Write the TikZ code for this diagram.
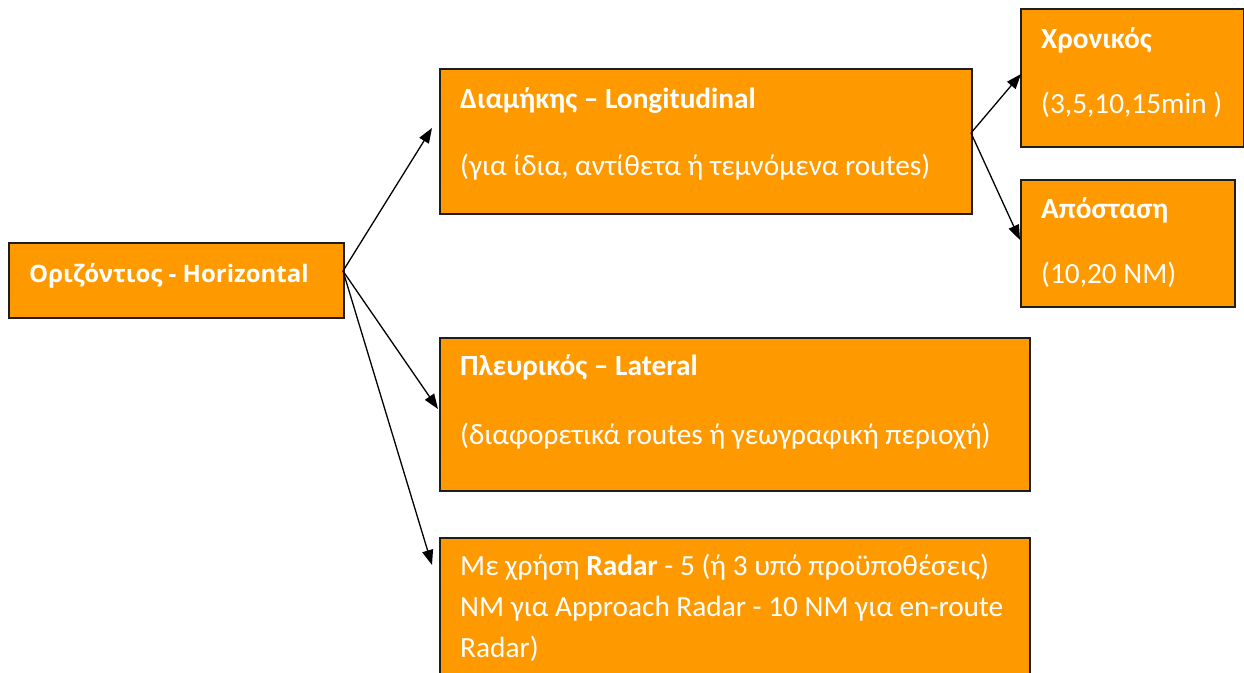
\documentclass[tikz,border=0pt]{standalone}
\usepackage{fontspec}
\setmainfont{Carlito}
\newfontfamily\hfont{Open Sans}
\usetikzlibrary{arrows.meta}
\definecolor{boxorange}{RGB}{255,153,0}
\definecolor{boxline}{RGB}{30,30,30}
\tikzset{
  box/.style={draw=boxline, line width=1.6pt, fill=boxorange, anchor=north west, inner sep=0pt},
  txt/.style={anchor=base west, inner sep=0pt, text=white, font=\fontsize{29.3}{34}\selectfont},
  btxt/.style={txt, font=\fontsize{29.3}{34}\selectfont\bfseries},
  conn/.style={line width=1.3pt, -{Triangle[length=15pt,width=11pt]}}
}
\begin{document}
\begin{tikzpicture}[x=1pt,y=-1pt]
\useasboundingbox (0,0) rectangle (1244,672);
% boxes
\node[box, minimum width=335pt, minimum height=75pt] (h) at (8,242) {};
\node[box, minimum width=532pt, minimum height=145pt] (d) at (439,68) {};
\node[box, minimum width=223pt, minimum height=138pt] (x) at (1020,8) {};
\node[box, minimum width=214pt, minimum height=127pt] (a) at (1020,179) {};
\node[box, minimum width=590pt, minimum height=153pt] (p) at (439,337) {};
\node[box, minimum width=590pt, minimum height=140pt] (r) at (439,537) {};
% texts
\node[btxt, font=\hfont\fontsize{24}{28}\selectfont\bfseries] (ht) at (29,282) {Οριζόντιος - Horizontal};
\node[btxt] (dt1) at (460,108) {Διαμήκης – Longitudinal};
\node[txt] (dt2) at (460,175) {(για ίδια, αντίθετα ή τεμνόμενα routes)};
\node[btxt] (xt1) at (1041,48) {Χρονικός};
\node[txt] (xt2) at (1041,113) {(3,5,10,15min )};
\node[btxt] (at1) at (1041,218) {Απόσταση};
\node[txt] (at2) at (1041,283) {(10,20 NM)};
\node[btxt] (pt1) at (460,375) {Πλευρικός – Lateral};
\node[txt] (pt2) at (460,444) {(διαφορετικά routes ή γεωγραφική περιοχή)};
\node[txt] (rt1) at (460,575) {Με χρήση \textbf{Radar} - 5 (ή 3 υπό προϋποθέσεις)};
\node[txt] (rt2) at (460,616) {NM για Approach Radar - 10 NM για en-route};
\node[txt] (rt3) at (460,657) {Radar)};
% connector anchors
\coordinate (hs) at (343,271);
\coordinate (ds) at (971,133);
\coordinate (dtip) at (432,128);
\coordinate (ptip) at (438,409);
\coordinate (rtip) at (432,565);
\coordinate (xtip) at (1021,74);
\coordinate (atip) at (1020,240);
\draw[conn] (hs) -- (dtip);
\draw[conn] (hs) -- (ptip);
\draw[conn] (hs) -- (rtip);
\draw[conn] (ds) -- (xtip);
\draw[conn] (ds) -- (atip);
\end{tikzpicture}
\end{document}
